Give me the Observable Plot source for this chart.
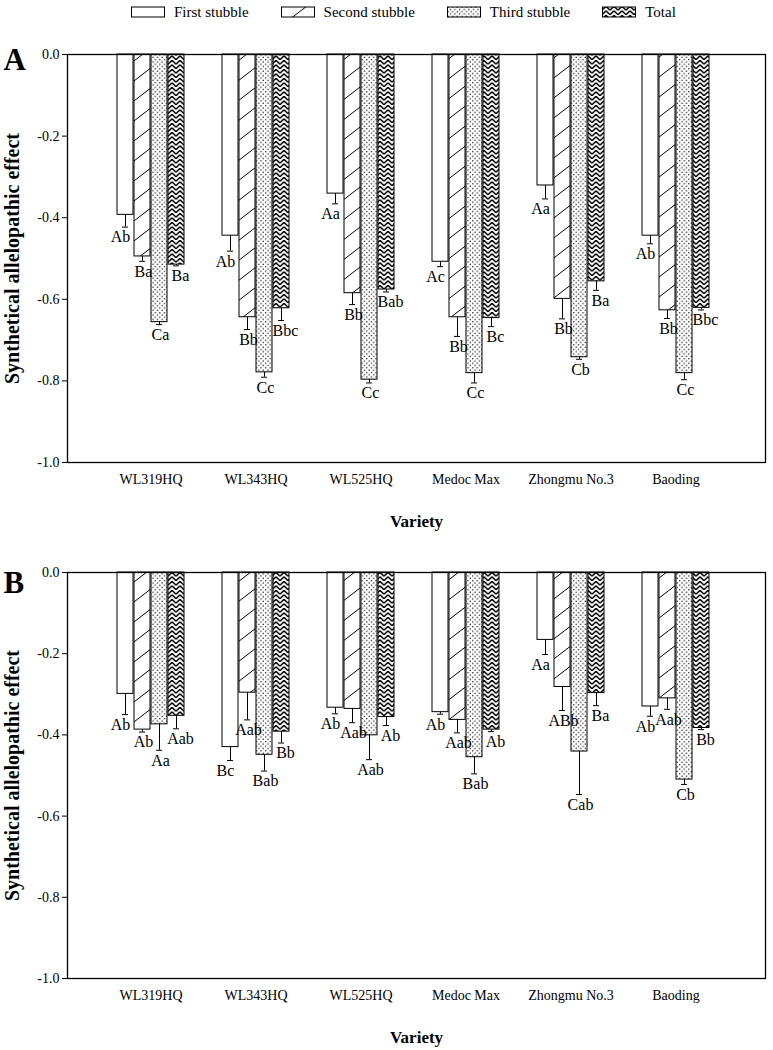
<!DOCTYPE html>
<html><head><meta charset="utf-8">
<script src="https://cdn.jsdelivr.net/npm/d3@7"></script>
<script src="https://cdn.jsdelivr.net/npm/@observablehq/plot@0.6"></script>
<style>
body{margin:0;background:#fff;font-family:'Liberation Serif','Times New Roman',serif;color:#000;}
#legend{height:24px;display:flex;align-items:center;padding-left:131px;box-sizing:border-box;font-size:15px;}
.item{display:flex;align-items:center;margin-right:32px;}
.item svg{margin-right:8px;}
#chart svg{display:block;}
</style></head>
<body>
<svg width="0" height="0" style="position:absolute">
<defs>
<pattern id="hatch" patternUnits="userSpaceOnUse" width="26" height="20">
<rect width="26" height="20" fill="white"/>
<path d="M-26,20 L26,-20 M0,20 L26,0 M0,40 L52,0" stroke="black" stroke-width="1"/>
</pattern>
<pattern id="dots" patternUnits="userSpaceOnUse" width="4.6" height="4.6">
<rect width="4.6" height="4.6" fill="white"/>
<circle cx="1.15" cy="1.15" r="0.7" fill="black"/>
<circle cx="3.45" cy="3.45" r="0.7" fill="black"/>
</pattern>
<pattern id="herring" patternUnits="userSpaceOnUse" width="8" height="4.5">
<rect width="8" height="4.5" fill="white"/>
<path d="M-4,0.3 L0,4.2 L4,0.3 L8,4.2 L12,0.3" stroke="black" stroke-width="1.5" fill="none"/>
</pattern>
</defs>
</svg>
<div id="legend"></div>
<div id="chart"></div>
<script>
const varieties = ["WL319HQ","WL343HQ","WL525HQ","Medoc Max","Zhongmu No.3","Baoding"];
const seriesNames = ["First stubble","Second stubble","Third stubble","Total"];
const yTicks = [0,-0.2,-0.4,-0.6,-0.8,-1.0];
const yLabel = "Synthetical allelopathic effect";
const xLabel = "Variety";

// Panel A
const aFirst  = [-0.393,-0.444,-0.341,-0.508,-0.321,-0.444];
const aFirstErr = [0.030,0.038,0.025,0.012,0.033,0.020];
const aSecond = [-0.495,-0.644,-0.585,-0.644,-0.599,-0.627];
const aSecondErr = [0.012,0.030,0.028,0.047,0.049,0.020];
const aThird  = [-0.656,-0.779,-0.797,-0.781,-0.742,-0.781];
const aThirdErr = [0.006,0.012,0.008,0.024,0.005,0.016];
const aTotal  = [-0.515,-0.622,-0.576,-0.646,-0.556,-0.621];
const aTotalErr = [0.003,0.030,0.006,0.021,0.022,0.005];
const aFirstLet  = ["Ab","Ab","Aa","Ac","Aa","Ab"];
const aSecondLet = ["Ba","Bb","Bb","Bb","Bb","Bb"];
const aThirdLet  = ["Ca","Cc","Cc","Cc","Cb","Cc"];
const aTotalLet  = ["Ba","Bbc","Bab","Bc","Ba","Bbc"];

// Panel B
const bFirst  = [-0.299,-0.430,-0.333,-0.344,-0.166,-0.330];
const bFirstErr = [0.051,0.033,0.015,0.005,0.036,0.024];
const bSecond = [-0.387,-0.296,-0.336,-0.363,-0.282,-0.310];
const bSecondErr = [0.006,0.067,0.034,0.032,0.058,0.027];
const bThird  = [-0.374,-0.449,-0.401,-0.455,-0.441,-0.510];
const bThirdErr = [0.064,0.040,0.060,0.041,0.106,0.012];
const bTotal  = [-0.353,-0.392,-0.356,-0.387,-0.297,-0.383];
const bTotalErr = [0.032,0.028,0.021,0.005,0.031,0.004];
const bFirstLet  = ["Ab","Bc","Ab","Ab","Aa","Ab"];
const bSecondLet = ["Ab","Aab","Aab","Aab","ABb","Aab"];
const bThirdLet  = ["Aa","Bab","Aab","Bab","Cab","Cb"];
const bTotalLet  = ["Aab","Bb","Ab","Ab","Ba","Bb"];

const fills = ["white","url(#hatch)","url(#dots)","url(#herring)"];
const letterShift = [-5, 1, 1, 4];
const FONT = "'Liberation Serif','Times New Roman',serif";

// legend
const legend = d3.select("#legend");
seriesNames.forEach((name, j) => {
  const it = legend.append("div").attr("class","item");
  const s = it.append("svg").attr("width",35).attr("height",12);
  s.append("rect").attr("x",0.5).attr("y",1).attr("width",33).attr("height",10)
    .attr("fill",fills[j]).attr("stroke","black").attr("stroke-width",1);
  it.append("span").text(name);
});

function build(vals, errs, lets) {
  const rows = [];
  vals.forEach((arr, j) => arr.forEach((v, i) => rows.push({
    variety: varieties[i], series: seriesNames[j], s: j, value: v, err: errs[j][i], letter: lets[j][i]
  })));
  return rows;
}

function panel({tag, vals, errs, lets, height, marginTop, marginBottom, tagDy}) {
  const data = build(vals, errs, lets);
  const W = 17;
  const marks = [];
  seriesNames.forEach((name, j) => {
    const d = data.filter(r => r.s === j);
    marks.push(Plot.barY(d, {x: "variety", y1: 0, y2: "value", fill: fills[j], stroke: "black", strokeWidth: 1,
      insetLeft: j * W, insetRight: (3 - j) * W}));
  });
  seriesNames.forEach((name, j) => {
    const d = data.filter(r => r.s === j);
    const off = (j - 1.5) * W;
    marks.push(Plot.ruleX(d, {x: "variety", y1: "value", y2: r => r.value - r.err, dx: off, stroke: "black", strokeWidth: 1}));
    marks.push(Plot.tickY(d, {x: "variety", y: r => r.value - r.err, insetLeft: j * W + 5, insetRight: (3 - j) * W + 5, stroke: "black", strokeWidth: 1}));
    marks.push(Plot.text(d, {x: "variety", y: r => r.value - r.err, text: "letter", dx: off + letterShift[j], dy: 4, lineAnchor: "top", fontSize: 16, fill: "black"}));
  });
  marks.push(Plot.axisY({ticks: yTicks, tickFormat: d => d.toFixed(1), tickSize: 5, tickPadding: 3, fontSize: 14, label: null, stroke: "black"}));
  marks.push(Plot.axisX({tickSize: 0, tickPadding: 12, fontSize: 14, label: null}));
  marks.push(Plot.frame({stroke: "black", strokeWidth: 1.3}));
  marks.push(Plot.text([yLabel], {text: d => d, frameAnchor: "left", textAnchor: "middle", lineAnchor: "middle", dx: -55, rotate: -90, fontSize: 20, fontWeight: "bold", fill: "black"}));
  marks.push(Plot.text([xLabel], {text: d => d, frameAnchor: "bottom", textAnchor: "middle", lineAnchor: "middle", dy: 59, fontSize: 17, fontWeight: "bold", fill: "black"}));
  marks.push(Plot.text([tag], {text: d => d, frameAnchor: "top-left", dx: -64, dy: tagDy, textAnchor: "start", lineAnchor: "top", fontSize: 31, fontWeight: "bold", fill: "black"}));
  return Plot.plot({
    width: 773, height, marginLeft: 67, marginRight: 8, marginTop, marginBottom,
    style: {fontFamily: FONT, color: "black", background: "white", overflow: "visible"},
    x: {domain: varieties, paddingInner: 0.3585, paddingOuter: 0.472, align: 0.47},
    y: {domain: [-1, 0]},
    marks
  });
}

const chart = document.getElementById("chart");
chart.appendChild(panel({
  tag: "A",
  vals: [aFirst, aSecond, aThird, aTotal],
  errs: [aFirstErr, aSecondErr, aThirdErr, aTotalErr],
  lets: [aFirstLet, aSecondLet, aThirdLet, aTotalLet],
  height: 521, marginTop: 30, marginBottom: 83, tagDy: -7
}));
chart.appendChild(panel({
  tag: "B",
  vals: [bFirst, bSecond, bThird, bTotal],
  errs: [bFirstErr, bSecondErr, bThirdErr, bTotalErr],
  lets: [bFirstLet, bSecondLet, bThirdLet, bTotalLet],
  height: 505, marginTop: 27, marginBottom: 72, tagDy: -2
}));
</script>
</body></html>
